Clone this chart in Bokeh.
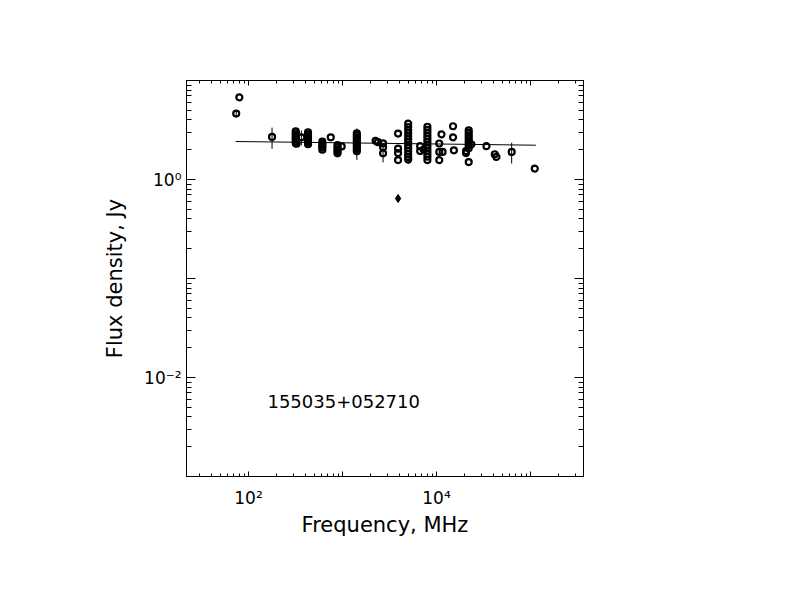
from bokeh.plotting import figure
from bokeh.models import Range1d, FixedTicker, LogAxis, Label, ColumnDataSource
from bokeh.embed import file_html
from bokeh.resources import INLINE

# ---- data ----
freq_mhz = [74, 80, 178,
            318, 318, 318, 318, 318, 318, 318, 325, 365,
            430, 430, 430, 430, 430, 430, 430,
            610, 610, 610, 610, 610, 750,
            885, 885, 885, 885, 885, 980,
            1420, 1420, 1420, 1420, 1420, 1420, 1420, 1420, 1420, 1420,
            2250, 2380, 2700, 2700, 2700,
            3900, 3900, 3900, 3900,
            5000, 5000, 5000, 5000, 5000, 5000, 5000, 5000, 5000, 5000, 5000, 5000, 5000,
            6700, 6700, 7300,
            8000, 8000, 8000, 8000, 8000, 8000, 8000, 8000, 8000, 8000, 8000, 8000,
            10700, 10700, 10700, 11300, 11600, 15000, 15000, 15300,
            22000, 22000, 22000, 22000, 22000, 22000, 22000, 22000, 22000, 20600, 20600, 23500,
            34000, 41700, 43400, 63000, 111000]
flux_jy = [4.63, 6.76, 2.69,
           3.07, 2.93, 2.80, 2.67, 2.55, 2.43, 2.32, 2.30, 2.67,
           3.00, 2.86, 2.73, 2.61, 2.49, 2.38, 2.27,
           2.41, 2.30, 2.20, 2.10, 2.00, 2.67,
           2.22, 2.12, 2.02, 1.93, 1.84, 2.16,
           2.93, 2.80, 2.67, 2.55, 2.43, 2.32, 2.22, 2.12, 2.02, 1.93,
           2.46, 2.38, 2.32, 2.12, 1.84,
           2.91, 2.05, 1.85, 1.57,
           3.67, 3.39, 3.14, 2.93, 2.73, 2.55, 2.38, 2.22, 2.07, 1.93, 1.80, 1.68, 1.59,
           2.17, 1.94, 2.01,
           3.41, 3.18, 2.96, 2.76, 2.58, 2.40, 2.24, 2.09, 1.95, 1.82, 1.70, 1.57,
           2.31, 1.90, 1.57, 2.86, 1.90, 3.45, 2.67, 1.97,
           3.14, 2.96, 2.80, 2.64, 2.49, 2.35, 2.22, 2.07, 1.50, 1.94, 1.85, 2.27,
           2.17, 1.80, 1.69, 1.90, 1.29]
err_jy = [0.30, 0.0, 0.65,
          0.0, 0.0, 0.0, 0.0, 0.0, 0.0, 0.0, 0.0, 0.45,
          0.25, 0.0, 0.0, 0.0, 0.0, 0.0, 0.0,
          0.0, 0.0, 0.0, 0.0, 0.0, 0.0,
          0.0, 0.0, 0.0, 0.0, 0.15, 0.0,
          0.35, 0.0, 0.0, 0.0, 0.0, 0.0, 0.0, 0.0, 0.0, 0.35,
          0.0, 0.0, 0.0, 0.0, 0.35,
          0.0, 0.0, 0.0, 0.0,
          0.0, 0.0, 0.0, 0.0, 0.0, 0.0, 0.0, 0.0, 0.0, 0.0, 0.0, 0.0, 0.15,
          0.0, 0.0, 0.0,
          0.0, 0.0, 0.0, 0.0, 0.0, 0.0, 0.0, 0.0, 0.0, 0.0, 0.0, 0.0,
          0.0, 0.0, 0.0, 0.0, 0.0, 0.0, 0.0, 0.0,
          0.0, 0.0, 0.0, 0.0, 0.0, 0.0, 0.0, 0.0, 0.0, 0.0, 0.0, 0.0,
          0.0, 0.0, 0.0, 0.45, 0.0]

filled_freq_mhz = [3900]
filled_flux_jy = [0.643]
filled_err_jy = [0.05]

fit_freq_mhz = [73, 114000]
fit_flux_jy = [2.42, 2.22]

x_major_ticks = [100, 1000, 10000, 100000]
x_tick_labels = ["10²", "", "10⁴", ""]
y_major_ticks = [0.001, 0.01, 0.1, 1, 10]
y_tick_labels = ["", "10⁻²", "", "10⁰", ""]

source_name = "155035+052710"
x_title = "Frequency, MHz"
y_title = "Flux density, Jy"

FONT = "DejaVu Sans"

x_minor = [m * 10 ** k for k in range(1, 6) for m in range(2, 10)]
y_minor = [m * 10.0 ** k for k in range(-3, 1) for m in range(2, 10)]

p = figure(x_axis_type="log", y_axis_type="log",
           x_range=Range1d(21.9, 3.66e5), y_range=Range1d(1e-3, 10),
           frame_width=397, frame_height=396,
           min_border_left=186, min_border_top=80,
           min_border_right=30, min_border_bottom=100,
           output_backend="svg", toolbar_location=None)
p.xgrid.visible = False
p.ygrid.visible = False
p.outline_line_color = "black"
p.background_fill_color = "white"
p.border_fill_color = "white"

xt = FixedTicker(ticks=x_major_ticks, minor_ticks=x_minor)
yt = FixedTicker(ticks=y_major_ticks, minor_ticks=y_minor)


def style_axis(ax, ticker, ticks, labels, maj, mnr):
    ax.ticker = ticker
    ax.major_label_overrides = {t: l for t, l in zip(ticks, labels)}
    ax.major_tick_in = maj
    ax.major_tick_out = 0
    ax.minor_tick_in = mnr
    ax.minor_tick_out = 0
    ax.axis_line_color = "black"
    ax.major_tick_line_color = "black"
    ax.minor_tick_line_color = "black"
    ax.major_label_text_font = FONT
    ax.major_label_text_font_size = "17px"
    ax.major_label_text_color = "black"
    ax.axis_label_text_font = FONT
    ax.axis_label_text_font_style = "normal"
    ax.axis_label_text_font_size = "21px"
    ax.axis_label_text_color = "black"


xa = p.xaxis[0]
ya = p.yaxis[0]
style_axis(xa, xt, x_major_ticks, x_tick_labels, 5, 3)
style_axis(ya, yt, y_major_ticks, y_tick_labels, 9, 5)
xa.axis_label = x_title
ya.axis_label = y_title
xa.major_label_standoff = 11
xa.axis_label_standoff = 2
ya.major_label_standoff = 5
ya.axis_label_standoff = 14

top = LogAxis()
style_axis(top, xt, x_major_ticks, ["", "", "", ""], 5, 3)
p.add_layout(top, "above")
right = LogAxis()
style_axis(right, yt, y_major_ticks, ["", "", "", "", ""], 9, 5)
p.add_layout(right, "right")

# error bars
eb_x, eb_lo, eb_hi = [], [], []
for f, s, e in zip(freq_mhz + filled_freq_mhz, flux_jy + filled_flux_jy, err_jy + filled_err_jy):
    if e > 0:
        eb_x.append(f)
        eb_lo.append(s - e)
        eb_hi.append(s + e)
p.segment(x0=eb_x, y0=eb_lo, x1=eb_x, y1=eb_hi, line_color="black", line_width=1)

# fit line
p.line(fit_freq_mhz, fit_flux_jy, line_color="black", line_width=1)

# points
src = ColumnDataSource(dict(f=freq_mhz, s=flux_jy))
p.scatter("f", "s", source=src, marker="circle", size=6, fill_color=None,
          line_color="black", line_width=2.2)
p.scatter(filled_freq_mhz, filled_flux_jy, marker="diamond", size=8,
          fill_color="black", line_color="black", line_width=1)

p.add_layout(Label(x=159, y=0.0057, text=source_name, text_baseline="middle",
                   text_font=FONT, text_font_size="18px", text_color="black"))

open("out.html", "w").write(file_html(p, INLINE))
